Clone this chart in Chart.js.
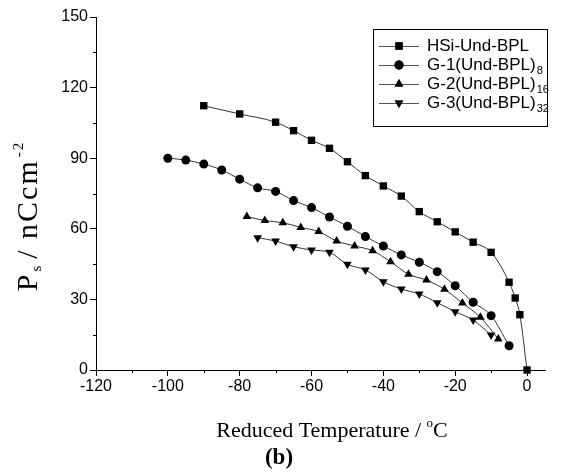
<!DOCTYPE html>
<html>
<head>
<meta charset="utf-8">
<script src="https://cdn.jsdelivr.net/npm/chart.js@4.4.1/dist/chart.umd.min.js"></script>
<style>
  html, body { margin: 0; padding: 0; background: #fff; }
  #wrap { width: 561px; height: 475px; position: relative; }
</style>
</head>
<body>
<div id="wrap"><canvas id="psChart" width="561" height="475"></canvas></div>
<script>
// tick values
const xTicks = [-120, -100, -80, -60, -40, -20, 0];
const xMinor = [-110, -90, -70, -50, -30, -10];
const yTicks = [0, 30, 60, 90, 120, 150];
const yMinor = [15, 45, 75, 105, 135];

// HSi-Und-BPL (squares)
const hsiX = [-90, -80, -70, -65, -60, -55, -50, -45, -40, -35, -30, -25, -20, -15, -10, -5, -3.3, -2, 0];
const hsiY = [112.3, 108.8, 105.3, 101.7, 97.6, 94.2, 88.5, 82.6, 78.2, 73.9, 67.3, 63.0, 58.7, 54.3, 50.0, 37.3, 30.6, 23.5, 0];

// G-1(Und-BPL)8 (circles)
const g1X = [-100, -95, -90, -85, -80, -75, -70, -65, -60, -55, -50, -45, -40, -35, -30, -25, -20, -15, -10, -5];
const g1Y = [90.0, 89.2, 87.5, 85.0, 81.1, 77.4, 75.9, 72.0, 69.0, 65.0, 61.1, 56.7, 52.7, 48.9, 45.8, 41.8, 35.8, 28.8, 23.1, 10.3];

// G-2(Und-BPL)16 (triangles)
const g2X = [-78, -73, -68, -63, -58, -53, -48, -43, -38, -33, -28, -23, -18, -13, -8];
const g2Y = [65.2, 63.5, 62.6, 60.6, 58.8, 54.8, 52.7, 50.7, 46.0, 40.7, 38.2, 34.3, 28.5, 22.4, 13.2];

// G-3(Und-BPL)32 (down triangles)
const g3X = [-75, -70, -65, -60, -55, -50, -45, -40, -35, -30, -25, -20, -15, -10];
const g3Y = [56.2, 54.8, 52.4, 51.0, 50.0, 44.9, 42.5, 37.5, 34.4, 32.3, 28.6, 24.8, 21.2, 14.9];

const seriesNames = ['HSi-Und-BPL', 'G-1(Und-BPL)', 'G-2(Und-BPL)', 'G-3(Und-BPL)'];
const seriesSubs = ['', '8', '16', '32'];

function pts(xs, ys) {
    return xs.map((x, i) => ({ x: x, y: ys[i] }));
}

function makeSet(label, xs, ys, style, radius, rot) {
    return {
        label: label,
        data: pts(xs, ys),
        showLine: true,
        borderColor: '#333',
        borderWidth: 1,
        backgroundColor: '#000',
        pointBackgroundColor: '#000',
        pointBorderColor: '#000',
        pointBorderWidth: 0,
        pointStyle: style,
        pointRadius: radius,
        pointRotation: rot || 0,
        cubicInterpolationMode: 'monotone',
        clip: false
    };
}

const sansFont = '"Liberation Sans", Arial, sans-serif';
const serifFont = '"Liberation Serif", "Times New Roman", serif';

// draws minor ticks, axis titles, legend and the panel label
const extrasPlugin = {
    id: 'extras',
    afterDraw(chart) {
        const ctx = chart.ctx;
        const xs = chart.scales.x, ys = chart.scales.y;
        const area = chart.chartArea;
        ctx.save();
        ctx.strokeStyle = '#000';
        ctx.lineWidth = 1;
        ctx.beginPath();
        xMinor.forEach(v => {
            const px = Math.round(xs.getPixelForValue(v)) + 0.5;
            ctx.moveTo(px, area.bottom);
            ctx.lineTo(px, area.bottom + 3);
        });
        yMinor.forEach(v => {
            const py = Math.round(ys.getPixelForValue(v)) + 0.5;
            ctx.moveTo(area.left, py);
            ctx.lineTo(area.left - 3, py);
        });
        ctx.stroke();

        ctx.fillStyle = '#000';
        // x title
        ctx.font = '22px ' + serifFont;
        ctx.textBaseline = 'alphabetic';
        const t1 = 'Reduced Temperature / ';
        const w1 = ctx.measureText(t1).width;
        ctx.font = '13px ' + serifFont;
        const wo = ctx.measureText('o').width;
        ctx.font = '22px ' + serifFont;
        const wc = ctx.measureText('C').width;
        let sx = 332 - (w1 + wo + wc) / 2;
        ctx.textAlign = 'left';
        ctx.fillText(t1, sx, 437);
        ctx.font = '13px ' + serifFont;
        ctx.fillText('o', sx + w1, 427);
        ctx.font = '22px ' + serifFont;
        ctx.fillText('C', sx + w1 + wo, 437);

        // panel label
        ctx.font = 'bold 23px ' + serifFont;
        ctx.textAlign = 'center';
        ctx.fillText('(b)', 279, 464);

        // y title, rotated
        ctx.save();
        ctx.translate(37, 216);
        ctx.rotate(-Math.PI / 2);
        ctx.textAlign = 'left';
        ctx.letterSpacing = '2px';
        const big = '30px ' + serifFont, small = '15px ' + serifFont;
        ctx.font = big; const wP = ctx.measureText('P').width;
        ctx.font = small; const wS = ctx.measureText('s').width + 6;
        ctx.font = big; const wMid = ctx.measureText('/ nCcm').width + 2;
        ctx.font = small; const wSup = ctx.measureText('-2').width;
        let cx = -(wP + wS + wMid + wSup) / 2;
        ctx.font = big; ctx.fillText('P', cx, 0); cx += wP;
        ctx.font = small; ctx.fillText('s', cx + 1, 4); cx += wS;
        ctx.font = big; ctx.fillText('/ nCcm', cx, 0); cx += wMid;
        ctx.font = small; ctx.fillText('-2', cx, -14);
        ctx.restore();

        // legend box
        ctx.strokeStyle = '#000';
        ctx.strokeRect(373.5, 29.5, 174, 97);
        const rowY = [46, 65, 84, 103];
        chart.data.datasets.forEach((ds, i) => {
            const y = rowY[i];
            ctx.strokeStyle = '#555';
            ctx.beginPath();
            ctx.moveTo(379, y + 0.5);
            ctx.lineTo(419, y + 0.5);
            ctx.stroke();
            Chart.helpers.drawPoint(ctx, {
                pointStyle: ds.pointStyle,
                radius: ds.pointRadius,
                rotation: ds.pointRotation,
                borderWidth: 0
            }, 399, y);
            ctx.fillStyle = '#000';
            ctx.fill();
            ctx.font = '17px ' + sansFont;
            ctx.textAlign = 'left';
            ctx.textBaseline = 'middle';
            ctx.fillText(seriesNames[i], 427, y);
            if (seriesSubs[i]) {
                const w = ctx.measureText(seriesNames[i]).width;
                ctx.font = '11px ' + sansFont;
                ctx.fillText(seriesSubs[i], 427 + w + 1, y + 6);
            }
        });
        ctx.restore();
    }
};

new Chart(document.getElementById('psChart'), {
    type: 'scatter',
    data: {
        datasets: [
            makeSet(seriesNames[0], hsiX, hsiY, 'rect', 5.2),
            makeSet(seriesNames[1] + seriesSubs[1], g1X, g1Y, 'circle', 4.5),
            makeSet(seriesNames[2] + seriesSubs[2], g2X, g2Y, 'triangle', 5),
            makeSet(seriesNames[3] + seriesSubs[3], g3X, g3Y, 'triangle', 5, 180)
        ]
    },
    options: {
        responsive: false,
        animation: false,
        layout: { padding: { left: 0, right: 16, top: 17, bottom: 0 } },
        plugins: {
            legend: { display: false },
            tooltip: { enabled: false }
        },
        scales: {
            x: {
                type: 'linear',
                min: -120,
                max: 5,
                afterBuildTicks: s => { s.ticks = xTicks.map(v => ({ value: v })); },
                afterFit: s => { s.height = 105; },
                grid: { drawOnChartArea: false, tickLength: 6, color: '#000', lineWidth: 1 },
                border: { color: '#000', width: 1 },
                ticks: {
                    color: '#000',
                    font: { family: sansFont, size: 16 },
                    padding: 1,
                    maxRotation: 0,
                    autoSkip: false
                }
            },
            y: {
                type: 'linear',
                min: 0,
                max: 150,
                afterBuildTicks: s => { s.ticks = yTicks.map(v => ({ value: v })); },
                afterFit: s => { s.width = 96; },
                grid: { drawOnChartArea: false, tickLength: 6, color: '#000', lineWidth: 1 },
                border: { color: '#000', width: 1 },
                ticks: {
                    color: '#000',
                    font: { family: sansFont, size: 16 },
                    padding: 2,
                    autoSkip: false
                }
            }
        }
    },
    plugins: [extrasPlugin]
});
</script>
</body>
</html>
